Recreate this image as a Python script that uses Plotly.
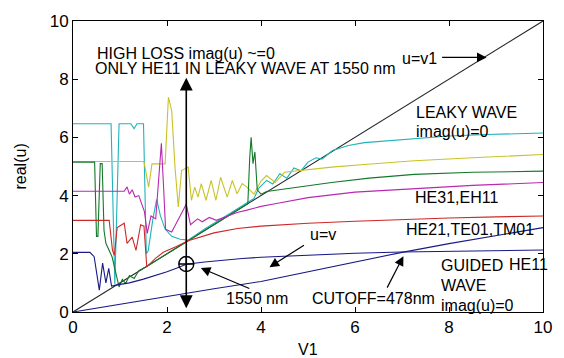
import plotly.graph_objects as go

# ---------------- data ----------------
diag_x = [0, 10]
diag_y = [0, 10]

cyan_x = [0, 0.81, 0.89, 0.98, 1.23, 1.3, 1.36, 1.5, 1.56, 1.6, 1.7, 1.78, 1.86, 1.96, 2.1, 2.28, 2.45,
          2.8, 3.2, 3.6, 3.85, 3.95, 4.12, 4.25, 4.4, 4.55, 4.7, 4.85, 5.0, 5.17, 5.3, 5.52, 5.86, 6.2,
          6.7, 7.26, 8.0, 8.8, 10]
cyan_y = [6.47, 6.47, 0.95, 6.47, 6.47, 6.3, 6.47, 6.47, 2.0, 2.1, 3.2, 3.87, 3.3, 2.85, 2.6, 2.5, 2.47,
          2.85, 3.25, 3.65, 3.9, 4.25, 4.52, 4.4, 4.75, 4.6, 4.95, 4.85, 5.15, 5.3, 5.25, 5.55, 5.72, 5.82,
          5.88, 5.95, 6.05, 6.1, 6.15]

yellow_x = [0, 1.51, 1.61, 1.68, 1.96, 2.03, 2.1, 2.17, 2.24, 2.31, 2.45, 2.52, 2.59, 2.66, 2.73, 2.83,
            2.94, 3.04, 3.14, 3.28, 3.39, 3.49, 3.6, 3.7, 3.85, 4.0, 4.12, 4.3, 4.5, 4.8, 5.5, 6.2, 7.26,
            8.5, 10]
yellow_y = [5.17, 5.17, 4.29, 5.09, 5.09, 7.38, 6.92, 4.98, 3.61, 4.86, 4.98, 3.84, 4.29, 3.95, 4.41,
            3.84, 4.52, 3.84, 4.63, 3.95, 4.52, 4.06, 4.41, 4.29, 4.05, 4.5, 4.69, 4.45, 4.8, 4.86, 4.98,
            5.07, 5.2, 5.3, 5.41]

green_x = [0, 0.46, 0.5, 0.53, 0.58, 0.62, 0.66, 0.7, 0.83, 0.98, 1.05, 1.12, 1.2, 1.3, 1.4, 1.55, 1.8,
           2.1, 2.45, 2.8, 3.2, 3.5, 3.72, 3.76, 3.79, 3.83, 3.87, 3.92, 4.0, 4.12, 4.75, 5.5, 6.3, 7.26,
           8.5, 10]
green_y = [5.15, 5.15, 2.6, 2.6, 5.1, 5.1, 2.8, 2.36, 1.9, 0.86, 1.12, 0.98, 1.25, 1.15, 1.42, 1.55, 1.8,
           2.1, 2.45, 2.8, 3.2, 3.5, 3.72, 5.3, 6.0, 5.1, 5.5, 4.2, 4.05, 4.14, 4.28, 4.45, 4.6, 4.73,
           4.8, 4.84]

magenta_x = [0, 1.09, 1.15, 1.2, 1.26, 1.32, 1.4, 1.45, 1.52, 1.58, 1.66, 1.76, 1.84, 1.88, 1.93, 1.97,
             2.1, 2.24, 2.34, 2.41, 2.5, 2.65, 2.75, 2.9, 3.05, 3.3, 3.49, 3.7, 4.0, 4.3, 5, 6, 7.26,
             8.5, 10]
magenta_y = [4.15, 4.15, 4.3, 4.05, 4.2, 3.95, 4.0, 3.75, 3.45, 2.7, 3.3, 3.2, 5.0, 5.8, 4.2, 2.84,
             2.75, 3.18, 3.45, 3.7, 3.0, 3.2, 3.1, 3.25, 3.15, 3.3, 3.42, 3.5, 3.63, 3.72, 3.93, 4.12,
             4.24, 4.35, 4.45]

red_x = [0, 0.77, 0.84, 0.88, 0.94, 1.09, 1.15, 1.26, 1.34, 1.44, 1.51, 1.57, 1.76, 1.92, 2.2, 2.45,
         3.0, 3.5, 4.0, 4.5, 5, 6, 7, 8, 9, 10]
red_y = [3.15, 3.15, 2.12, 1.95, 2.9, 3.05, 2.36, 2.57, 2.12, 3.0, 2.95, 1.55, 1.85, 2.05, 2.25, 2.45,
         2.72, 2.87, 2.95, 3.0, 3.05, 3.12, 3.18, 3.23, 3.27, 3.3]

he11_x = [0, 0.36, 0.45, 0.56, 0.63, 0.7, 0.76, 0.82, 1.0, 1.2, 1.5, 1.8, 2.0, 2.2, 2.41, 2.8, 3.2, 3.6,
          4.0, 4.5, 5, 6, 7, 8, 9, 10]
he11_y = [2.05, 2.05, 1.9, 0.75, 1.68, 1.0, 1.5, 0.89, 0.95, 1.0, 1.13, 1.27, 1.38, 1.5, 1.64, 1.72,
          1.79, 1.84, 1.88, 1.92, 1.96, 2.02, 2.06, 2.09, 2.11, 2.13]

low_x = [0, 1, 2, 3, 4, 5, 6, 7, 8, 9, 10]
low_y = [0, 0.27, 0.55, 0.8, 1.05, 1.38, 1.72, 2.05, 2.35, 2.63, 2.9]

op_v1 = [2.41]   # 1550 nm operating point
op_u = [1.65]

x_ticks = [0, 2, 4, 6, 8, 10]
y_ticks = [0, 2, 4, 6, 8, 10]

# ---------------- figure ----------------
series = [
    (diag_x, diag_y, "rgb(40,40,40)"),
    (cyan_x, cyan_y, "rgb(30,180,185)"),
    (yellow_x, yellow_y, "rgb(200,195,40)"),
    (green_x, green_y, "rgb(20,120,40)"),
    (magenta_x, magenta_y, "rgb(185,40,175)"),
    (red_x, red_y, "rgb(205,40,40)"),
    (low_x, low_y, "rgb(25,25,135)"),
    (he11_x, he11_y, "rgb(25,25,135)"),
]

fig = go.Figure()
for xs, ys, col in series:
    fig.add_trace(go.Scatter(x=xs, y=ys, mode="lines",
                             line=dict(color=col, width=1.1), showlegend=False,
                             hoverinfo="skip"))

fig.add_trace(go.Scatter(x=op_v1, y=op_u, mode="markers", showlegend=False,
                         marker=dict(symbol="circle-cross-open", size=15,
                                     color="black", line=dict(width=1.4))))

F = "Liberation Sans, Arial, sans-serif"
TF = dict(family=F, size=16, color="black")

anns = []
def txt(x, y, s, anchor="left"):
    anns.append(dict(x=x, y=y, xref="x", yref="y", text=s, showarrow=False,
                     xanchor=anchor, yanchor="middle", font=TF))

def arrow(x, y, ax, ay, size=1.5, width=1.2):
    anns.append(dict(x=x, y=y, xref="x", yref="y", text="", showarrow=True,
                     ax=ax, ay=ay, arrowhead=2, arrowsize=size, arrowwidth=width,
                     arrowcolor="black"))

txt(0.46, 8.87, "HIGH LOSS imag(u) ~=0")
txt(0.42, 8.36, "ONLY HE11 IN LEAKY WAVE AT 1550 nm")
txt(6.95, 8.70, "u=v1")
arrow(8.8, 8.75, -46, 0, 1.6, 1.2)
txt(7.26, 6.85, "LEAKY WAVE")
txt(7.26, 6.20, "imag(u)=0")
txt(7.24, 3.94, "HE31,EH11")
txt(7.05, 2.84, "HE21,TE01,TM01")
txt(7.78, 1.61, "GUIDED")
txt(9.23, 1.64, "HE11")
txt(7.78, 0.92, "WAVE")
txt(7.78, 0.24, "imag(u)=0")
txt(5.04, 0.45, "CUTOFF=478nm")
arrow(7.03, 1.92, -17, 33, 1.6, 1.2)
txt(5.0, 2.67, "u=v")
arrow(4.18, 1.54, 36, -23, 1.6, 1.2)
txt(3.22, 0.45, "1550 nm")
arrow(2.72, 1.51, 50, 21, 1.6, 1.2)

# big double-headed vertical arrow
anns.append(dict(x=op_v1[0], y=8.05, xref="x", yref="y", axref="x", ayref="y",
                 ax=op_v1[0], ay=0.08, text="", showarrow=True, arrowhead=2,
                 startarrowhead=2, arrowside="end+start", arrowsize=1.6,
                 startarrowsize=1.6, arrowwidth=1.6, arrowcolor="black"))

# axis titles
anns.append(dict(x=0.5, y=0, xref="paper", yref="paper", yshift=-37, text="V1",
                 showarrow=False, xanchor="center", yanchor="middle",
                 font=dict(family=F, size=16, color="black")))
anns.append(dict(x=0, y=0.5, xref="paper", yref="paper", xshift=-53, text="real(u)",
                 textangle=-90, showarrow=False, xanchor="center", yanchor="middle",
                 font=dict(family=F, size=16, color="black")))

axis_common = dict(range=[0, 10], showgrid=False, zeroline=False, showline=True,
                   linecolor="black", linewidth=1, mirror="ticks", ticks="inside",
                   ticklen=5, tickcolor="black",
                   tickfont=dict(family=F, size=17, color="black"))

fig.update_layout(
    width=564, height=358,
    margin=dict(l=73, r=13, t=20, b=46),
    paper_bgcolor="white", plot_bgcolor="white",
    xaxis=dict(tickvals=x_ticks, ticktext=[str(v) for v in x_ticks], **axis_common),
    yaxis=dict(tickvals=y_ticks, ticktext=[str(v) for v in y_ticks], **axis_common),
    annotations=anns,
)

fig.write_html("out.html")
